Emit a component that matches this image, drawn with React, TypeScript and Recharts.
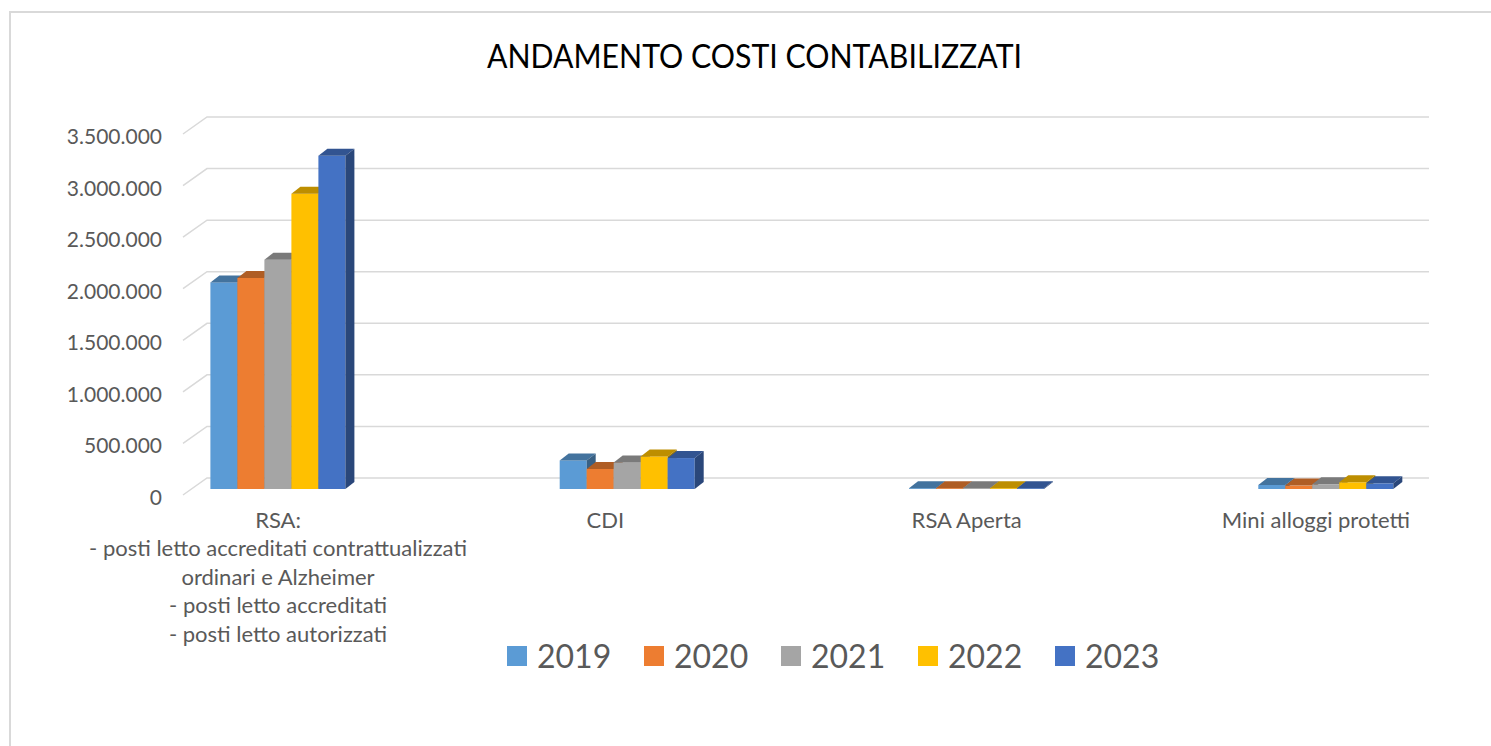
import React from "react";
import { BarChart, Bar, XAxis, YAxis, CartesianGrid } from "recharts";

// categories + multi-line axis labels
const categories = ["RSA", "CDI", "RSA Aperta", "Mini alloggi protetti"];
const categoryLabels = [
  [
    "RSA:",
    "- posti letto accreditati contrattualizzati",
    "ordinari e Alzheimer",
    "- posti letto accreditati",
    "- posti letto autorizzati",
  ],
  ["CDI"],
  ["RSA Aperta"],
  ["Mini alloggi protetti"],
];

const years = ["2019", "2020", "2021", "2022", "2023"];
const v2019 = [2003000, 277000, 6000, 39000];
const v2020 = [2046000, 194000, 5000, 33000];
const v2021 = [2223000, 258000, 6000, 45000];
const v2022 = [2863000, 316000, 7000, 65000];
const v2023 = [3231000, 300000, 6000, 55000];
const yTicks = [0, 500000, 1000000, 1500000, 2000000, 2500000, 3000000, 3500000];

const COLORS = ["#5b9bd5", "#ed7d31", "#a5a5a5", "#ffc000", "#4472c4"];
const TEXT = "#595959";
const FONT = "Lato, 'Open Sans', sans-serif";
// small horizontal nudges for the category labels (excel puts them a bit off the bars)
const LABEL_NUDGE = [0, -22, -10, -10];

const seriesValues = [v2019, v2020, v2021, v2022, v2023];
const data = categories.map((name, i) => {
  const row: Record<string, string | number> = { name };
  years.forEach((yr, s) => (row[yr] = seriesValues[s][i]));
  return row;
});

function shade(hex: string, k: number) {
  const n = parseInt(hex.slice(1), 16);
  const r = Math.round(((n >> 16) & 255) * k);
  const g = Math.round(((n >> 8) & 255) * k);
  const b = Math.round((n & 255) * k);
  return `rgb(${r},${g},${b})`;
}

const fmt = (v: number) => String(v).replace(/\B(?=(\d{3})+(?!\d))/g, ".");

// fake 3d column: front, top and right side
const DX = 9;
const DY = 7;
function Bar3D(props: any) {
  const { x, y, width, height, color } = props;
  if (x == null || y == null) return null;
  const h = Math.max(height, 0.8);
  const yy = y + height - h;
  return (
    <g>
      <rect x={x} y={yy} width={width} height={h} fill={color} />
      <polygon
        points={`${x},${yy} ${x + DX},${yy - DY} ${x + width + DX},${yy - DY} ${x + width},${yy}`}
        fill={shade(color, 0.74)}
      />
      <polygon
        points={`${x + width},${yy} ${x + width + DX},${yy - DY} ${x + width + DX},${yy + h - DY} ${x + width},${yy + h}`}
        fill={shade(color, 0.62)}
      />
    </g>
  );
}

function GridLine(props: any) {
  const { y1 } = props;
  return (
    <polyline
      points={`183,${y1 + 6} 207,${y1 - 11} 1429,${y1 - 11}`}
      fill="none"
      stroke="#d9d9d9"
      strokeWidth={1.5}
    />
  );
}

function YTick(props: any) {
  const { y, payload } = props;
  return (
    <text x={162} y={y + 7.5} textAnchor="end" dominantBaseline="central" fill={TEXT} fontSize={21} fontFamily={FONT}>
      {fmt(payload.value)}
    </text>
  );
}

function XTick(props: any) {
  const { x, index } = props;
  const lines = categoryLabels[index] || [];
  const cx = x + (LABEL_NUDGE[index] || 0);
  return (
    <text x={cx} y={528} textAnchor="middle" fill={TEXT} fontSize={22} fontFamily={FONT}>
      {lines.map((l, i) => (
        <tspan key={i} x={cx} dy={i === 0 ? 0 : 28.4}>
          {l}
        </tspan>
      ))}
    </text>
  );
}

export default function App() {
  return (
    <div style={{ position: "absolute", left: 0, top: 0, width: 1491, height: 746, overflow: "hidden", background: "#fff" }}>
      <div
        style={{
          position: "absolute",
          left: 9,
          top: 11,
          right: -5,
          bottom: -5,
          borderLeft: "2px solid #d9d9d9",
          borderTop: "2px solid #d9d9d9",
        }}
      />
      <svg style={{ position: "absolute", left: 0, top: 0 }} width={1491} height={100}>
        <text
          x={754.5}
          y={68}
          textAnchor="middle"
          fontSize={32}
          fontFamily={FONT}
          fill="#000"
          textLength={535}
          lengthAdjust="spacingAndGlyphs"
        >
          ANDAMENTO COSTI CONTABILIZZATI
        </text>
      </svg>
      <div style={{ position: "absolute", left: 0, top: 0 }}>
        <BarChart
          width={1510}
          height={746}
          data={data}
          margin={{ top: 128, right: 9.4, left: 102.4, bottom: 227 }}
          barGap={0}
          barSize={27}
        >
          <CartesianGrid vertical={false} horizontal={(p: any) => <GridLine key={`g${p.index}`} {...p} />} />
          <XAxis dataKey="name" axisLine={false} tickLine={false} height={30} tick={<XTick />} interval={0} />
          <YAxis
            width={1}
            domain={[0, 3500000]}
            ticks={yTicks}
            axisLine={false}
            tickLine={false}
            tick={<YTick />}
            interval={0}
          />
          {years.map((yr, s) => (
            <Bar
              key={yr}
              dataKey={yr}
              fill={COLORS[s]}
              isAnimationActive={false}
              shape={(p: any) => <Bar3D {...p} color={COLORS[s]} />}
            />
          ))}
        </BarChart>
      </div>
      <div
        style={{
          position: "absolute",
          left: 507,
          top: 634,
          display: "flex",
          fontFamily: FONT,
          fontSize: 32,
          color: TEXT,
          lineHeight: "44px",
        }}
      >
        {years.map((yr, s) => (
          <div key={yr} style={{ width: 137, display: "flex", alignItems: "center" }}>
            <span style={{ width: 20, height: 20, background: COLORS[s], marginRight: 10, display: "inline-block" }} />
            <span>{yr}</span>
          </div>
        ))}
      </div>
    </div>
  );
}
